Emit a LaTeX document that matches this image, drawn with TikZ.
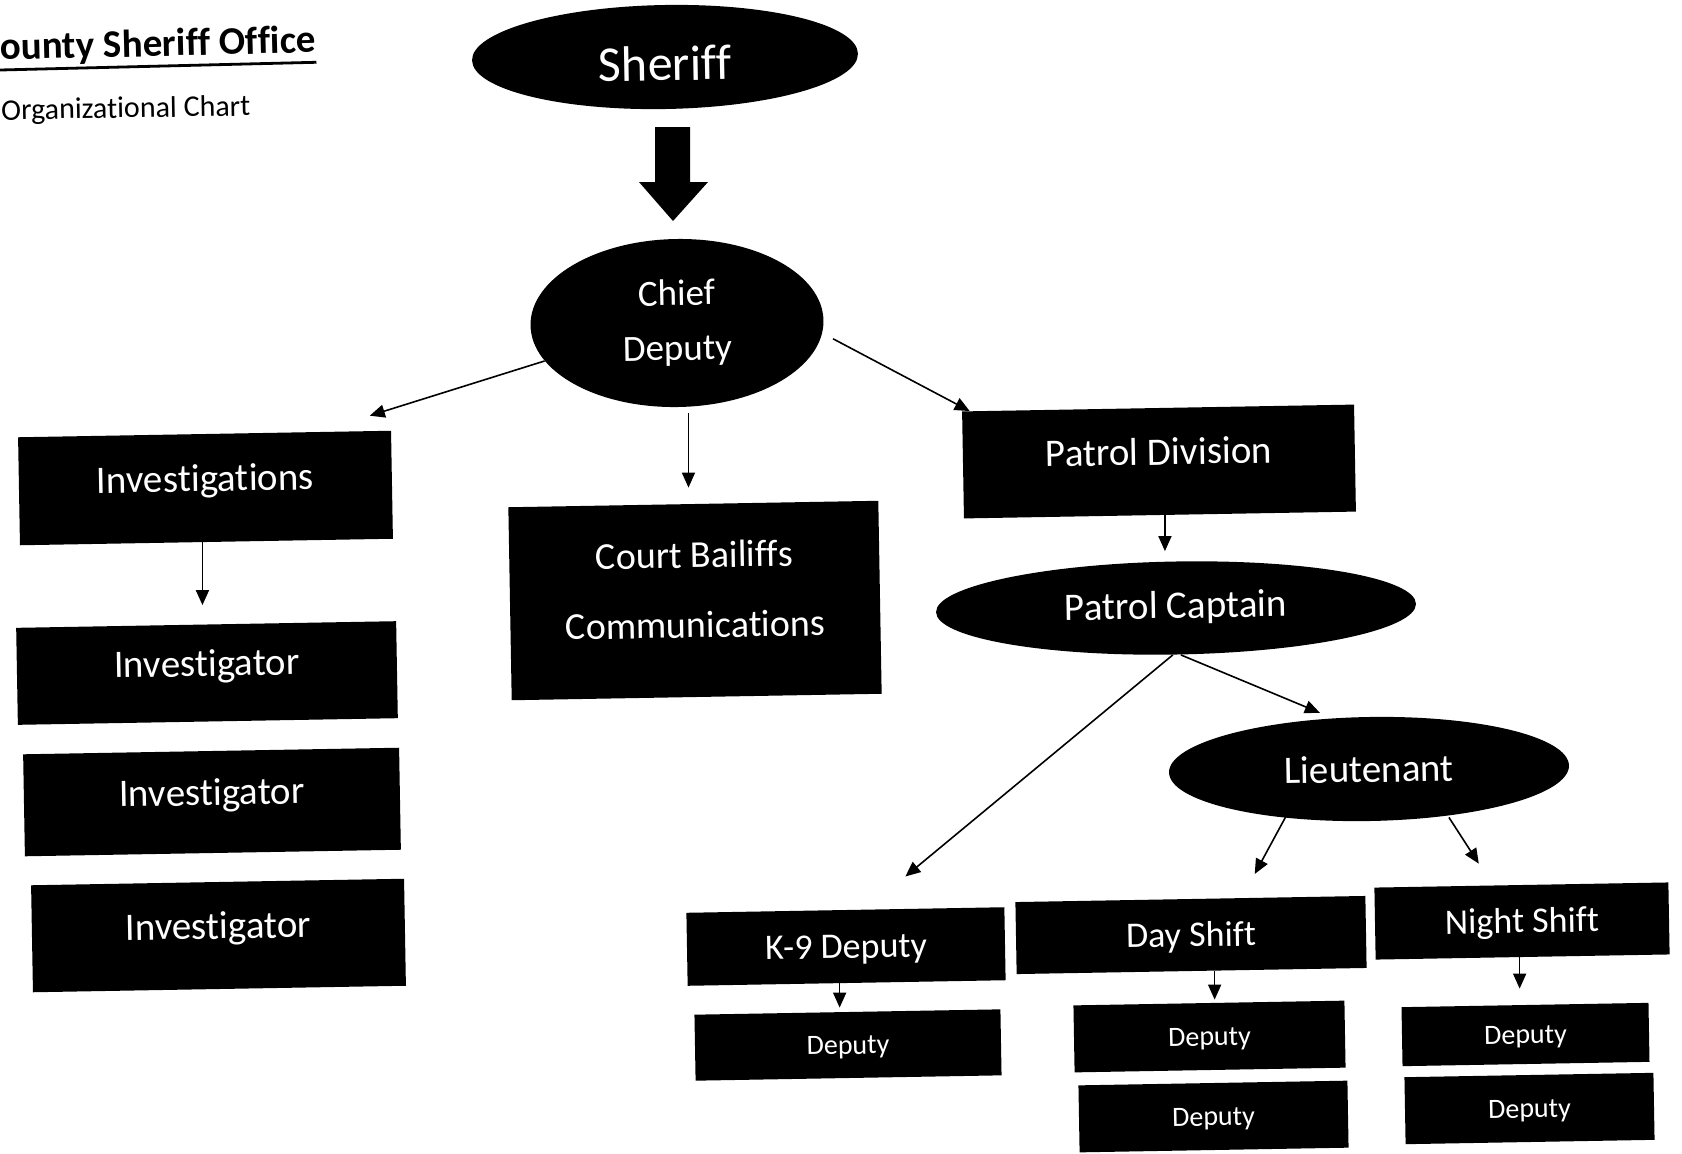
\documentclass[tikz,border=0pt]{standalone}
\usepackage{fontspec}
\setmainfont{Carlito}[Ligatures=NoCommon]
\usetikzlibrary{shapes.geometric,arrows.meta}
\begin{document}
\begin{tikzpicture}[x=0.5pt,y=-0.5pt,
  box/.style={rectangle, fill=black, text=white, inner sep=0pt, rotate=1},
  oval/.style={ellipse, fill=black, text=white, inner sep=0pt, rotate=1},
  arr/.style={-{Triangle[length=7.5pt,width=6.5pt]}, line width=0.8pt},
  bigtxt/.style={font=\fontsize{19.5}{23}\selectfont},
  bigbox/.style={bigtxt, text height=9pt, text depth=5.7pt},
  midtxt/.style={font=\fontsize{18}{21}\selectfont, text height=13pt, text depth=1.2pt},
  smalltxt/.style={font=\fontsize{14}{16}\selectfont, text height=10pt, text depth=0.8pt}]

\useasboundingbox (0,0) rectangle (1682,1153);

% title
\node[anchor=base west, rotate=1.4, inner sep=0pt, font=\bfseries\fontsize{19.5}{23}\selectfont] (title) at (0,60) {ounty Sheriff Office};
\draw[line width=1.4pt] ([yshift=-5pt]title.base west) -- ([yshift=-5pt]title.base east);
\node[anchor=base west, rotate=1, inner sep=0pt, font=\fontsize{15}{18}\selectfont] (subtitle) at (1,120) {Organizational Chart};

% top
\node[oval, minimum width=193pt, minimum height=52pt, font=\fontsize{25}{30}\selectfont, text height=23.5pt, text depth=0pt] (sheriff) at (665,57) {Sheriff};
\node[oval, minimum width=146.5pt, minimum height=84pt, align=center, font=\fontsize{18.5}{27.5}\selectfont] (chief) at (677,323) {Chief\\Deputy};
\fill (655,127) -- (690,127) -- (690,182) -- (708,182) -- (673,221) -- (639,182) -- (655,182) -- cycle;

% left column
\node[box, minimum width=186.5pt, minimum height=54pt, bigbox] (inv) at (205.5,488) {Investigations};
\node[box, minimum width=190pt, minimum height=48.5pt, bigbox] (inv1) at (207,673) {Investigator};
\node[box, minimum width=188pt, minimum height=51pt, bigbox] (inv2) at (212,802) {Investigator};
\node[box, minimum width=186.5pt, minimum height=53.5pt, bigbox] (inv3) at (218.5,935.5) {Investigator};

% middle
\node[box, minimum width=185pt, minimum height=96.5pt, align=center, font=\fontsize{19}{35}\selectfont, text depth=11pt] (court) at (695,600.5) {Court Bailiffs\\Communications};

% right
\node[box, minimum width=196pt, minimum height=53.5pt, bigbox] (pd) at (1159,461.5) {Patrol Division};
\node[oval, minimum width=240pt, minimum height=46.5pt, bigtxt] (pc) at (1176,608) {Patrol Captain};
\node[oval, minimum width=200pt, minimum height=52pt, bigtxt] (lt) at (1369,769) {Lieutenant};

\node[box, minimum width=159pt, minimum height=36.5pt, midtxt] (k9) at (846,946.5) {K-9 Deputy};
\node[box, minimum width=175pt, minimum height=36pt, midtxt] (day) at (1191,935) {Day Shift};
\node[box, minimum width=147pt, minimum height=36pt, midtxt] (night) at (1522,921) {Night Shift};

\node[box, minimum width=153pt, minimum height=33pt, smalltxt] (k9d) at (848,1045) {Deputy};
\node[box, minimum width=135.5pt, minimum height=33.5pt, smalltxt] (dd1) at (1209.5,1036.5) {Deputy};
\node[box, minimum width=134.5pt, minimum height=33.5pt, smalltxt] (dd2) at (1213.5,1116.5) {Deputy};
\node[box, minimum width=123.5pt, minimum height=29.5pt, smalltxt] (nd1) at (1525.5,1034.5) {Deputy};
\node[box, minimum width=124.5pt, minimum height=33.5pt, smalltxt] (nd2) at (1529.5,1108.5) {Deputy};

% connectors
\draw[arr, shorten >=30pt] (chief.195) -- ([xshift=54pt]inv.north);
\draw[arr, shorten <=3pt, shorten >=8pt] ([xshift=5pt]chief.south) -- ([xshift=5pt]chief.south |- court.north);
\draw[arr, shorten <=6pt] (chief.-5) -- ([xshift=4pt]pd.north west);
\draw[arr, shorten >=9.5pt] ([xshift=-2pt]inv.south) -- ([xshift=-2pt]inv.south |- inv1.north);
\draw[arr, shorten >=5pt] ([xshift=2.5pt]pd.south) -- ([xshift=2.5pt]pd.south |- pc.north);
\draw[arr, shorten >=26pt] ([xshift=-2pt]pc.south) -- ([xshift=10pt]k9.north);
\draw[arr, shorten >=5pt] ([xshift=2pt]pc.south) -- ([xshift=-19.5pt]lt.north);
\draw[arr, shorten >=14pt] ([xshift=-42pt,yshift=2.5pt]lt.south) -- ([xshift=25.5pt]day.north);
\draw[arr, shorten >=12.5pt] ([xshift=39.5pt,yshift=2pt]lt.south) -- ([xshift=-14.5pt]night.north);
\draw[arr, shorten >=2pt] ([xshift=-3.5pt]k9.south) -- ([xshift=-3.5pt]k9.south |- k9d.north);
\draw[arr, shorten >=1.5pt] ([xshift=11.5pt]day.south) -- ([xshift=11.5pt]day.south |- dd1.north);
\draw[arr, shorten >=8pt] ([xshift=-1.5pt]night.south) -- ([xshift=-1.5pt]night.south |- nd1.north);
\end{tikzpicture}
\end{document}
